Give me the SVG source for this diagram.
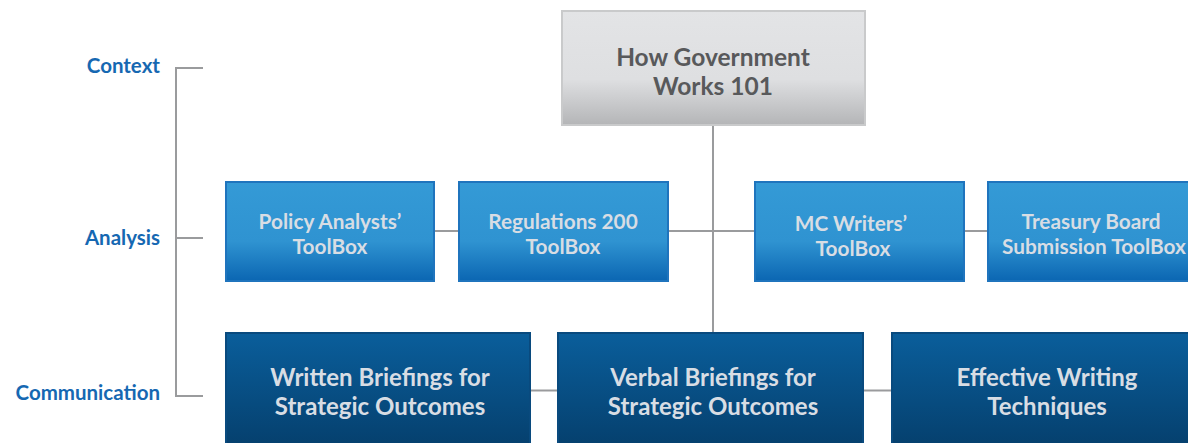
<svg xmlns="http://www.w3.org/2000/svg" width="1188" height="443" viewBox="0 0 1188 443">
<defs>
<linearGradient id="gGray" x1="0" y1="0" x2="0" y2="1">
<stop offset="0" stop-color="#e3e4e6"/><stop offset="0.6" stop-color="#dedfe1"/><stop offset="1" stop-color="#b4b5b7"/>
</linearGradient>
<linearGradient id="gBlue" x1="0" y1="0" x2="0" y2="1">
<stop offset="0" stop-color="#349ad6"/><stop offset="0.6" stop-color="#2f93d1"/><stop offset="1" stop-color="#0b66b2"/>
</linearGradient>
<linearGradient id="gNavy" x1="0" y1="0" x2="0" y2="1">
<stop offset="0" stop-color="#0a5e9b"/><stop offset="1" stop-color="#053e6b"/>
</linearGradient>
</defs>
<style>
.lbl{font-family:"Lato","Liberation Sans",sans-serif;font-weight:700;font-size:20.5px;fill:#1668b2;text-anchor:end}
.t{font-family:"Lato","Liberation Sans",sans-serif;font-weight:700;text-anchor:middle}
.top{font-size:24.5px;fill:#58595b}
.mid{font-size:20.8px;fill:#d8dde4}
.bot{font-size:24px;fill:#d8dde4}
.ln{stroke:#9a9b9d;stroke-width:2;fill:none}
.bx1{fill:url(#gBlue);stroke:#1f74bd;stroke-width:2}
.bx2{fill:url(#gNavy);stroke:#094a7e;stroke-width:2}
</style>
<rect width="1188" height="443" fill="#ffffff"/>
<g id="connectors">
<path class="ln" d="M203 68H176V396H203M176 238H203"/>
<path class="ln" d="M713 125V333"/>
<path class="ln" d="M434 231H755M964 231H988"/>
<path class="ln" d="M530 390.5H558M863 390.5H892"/>
</g>
<g id="labels">
<text class="lbl" x="160" y="73">Context</text>
<text class="lbl" x="160" y="245">Analysis</text>
<text class="lbl" x="160" y="400">Communication</text>
</g>
<g id="n-hgw">
<rect x="562" y="11" width="303" height="114" fill="url(#gGray)" stroke="#c9cacb" stroke-width="2"/>
<text class="t top" x="713" y="66">How Government</text>
<text class="t top" x="713" y="95">Works 101</text>
</g>
<g id="n-pat">
<rect class="bx1" x="226" y="182" width="208" height="99"/>
<text class="t mid" x="330" y="229">Policy Analysts’</text>
<text class="t mid" x="330" y="254">ToolBox</text>
</g>
<g id="n-reg">
<rect class="bx1" x="459" y="182" width="209" height="99"/>
<text class="t mid" x="563" y="229">Regulations 200</text>
<text class="t mid" x="563" y="254">ToolBox</text>
</g>
<g id="n-mcw">
<rect class="bx1" x="755" y="182" width="209" height="99"/>
<text class="t mid" x="851" y="231">MC Writers’</text>
<text class="t mid" x="853" y="256">ToolBox</text>
</g>
<g id="n-tbs">
<rect class="bx1" x="988" y="182" width="210" height="99"/>
<text class="t mid" x="1091" y="229">Treasury Board</text>
<text class="t mid" x="1094" y="254">Submission ToolBox</text>
</g>
<g id="n-wb">
<rect class="bx2" x="226" y="333" width="304" height="120"/>
<text class="t bot" x="380" y="386">Written Briefings for</text>
<text class="t bot" x="380" y="415">Strategic Outcomes</text>
</g>
<g id="n-vb">
<rect class="bx2" x="558" y="333" width="305" height="120"/>
<text class="t bot" x="713" y="386">Verbal Briefings for</text>
<text class="t bot" x="713" y="415">Strategic Outcomes</text>
</g>
<g id="n-ew">
<rect class="bx2" x="892" y="333" width="310" height="120"/>
<text class="t bot" x="1047" y="386">Effective Writing</text>
<text class="t bot" x="1047" y="415">Techniques</text>
</g>
</svg>
